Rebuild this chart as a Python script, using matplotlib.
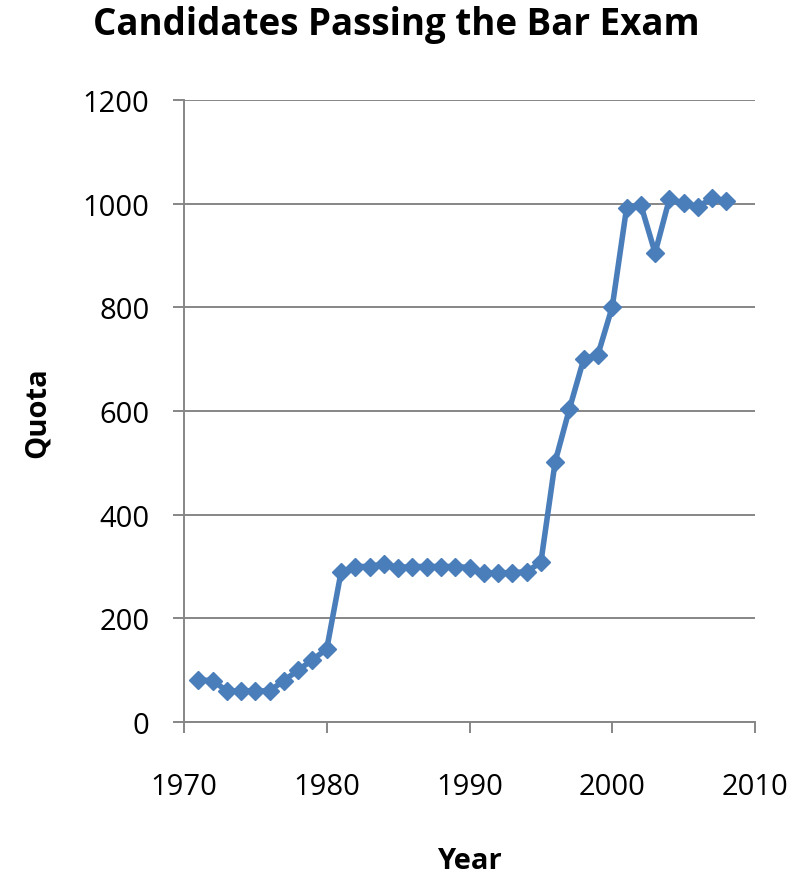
import matplotlib
matplotlib.use("Agg")
import matplotlib.pyplot as plt

years = [1971, 1972, 1973, 1974, 1975, 1976, 1977, 1978, 1979, 1980,
         1981, 1982, 1983, 1984, 1985, 1986, 1987, 1988, 1989, 1990,
         1991, 1992, 1993, 1994, 1995, 1996, 1997, 1998, 1999, 2000,
         2001, 2002, 2003, 2004, 2005, 2006, 2007, 2008]
quota = [81, 80, 60, 60, 60, 60, 80, 100, 120, 141,
         289, 300, 300, 305, 298, 300, 300, 300, 300, 298,
         287, 288, 288, 290, 308, 502, 604, 700, 709, 801,
         991, 998, 905, 1009, 1001, 994, 1011, 1005]
x_ticks = [1970, 1980, 1990, 2000, 2010]
y_ticks = [0, 200, 400, 600, 800, 1000, 1200]

plt.rcParams['font.family'] = ['Open Sans', 'DejaVu Sans']

W, H = 801, 878
fig = plt.figure(figsize=(W / 100, H / 100), dpi=100)
left, right, top, bottom = 184, 755, 101, 723
ax = fig.add_axes([left / W, 1 - bottom / H, (right - left) / W, (bottom - top) / H])

grid_c = '#868686'
ax.plot(years, quota, color='#4A7EBB', lw=4.0, marker='D', ms=9.2,
        mec='#4A7EBB', mfc='#4A7EBB', zorder=3, clip_on=False)

ax.set_xlim(1970, 2010)
ax.set_ylim(0, 1200)
ax.set_xticks(x_ticks)
ax.set_yticks(y_ticks)
ax.yaxis.grid(True, color=grid_c, lw=1.4)
ax.set_axisbelow(True)
for s in ['top', 'right']:
    ax.spines[s].set_visible(False)
for s in ['left', 'bottom']:
    ax.spines[s].set_color(grid_c)
    ax.spines[s].set_linewidth(1.4)
ax.tick_params(axis='both', direction='out', length=8, width=1.4, color=grid_c,
               labelsize=21, labelcolor='black')
ax.tick_params(axis='x', pad=28)
ax.tick_params(axis='y', pad=17)

fig.text(396 / W, 1 - 25 / H, 'Candidates Passing the Bar Exam',
         ha='center', va='center', fontsize=26.5, fontweight='bold')
fig.text(469 / W, 1 - 862 / H, 'Year', ha='center', va='center',
         fontsize=21, fontweight='bold')
fig.text(37 / W, 1 - 413 / H, 'Quota', ha='center', va='center', rotation=90,
         fontsize=21, fontweight='bold')

fig.savefig('out.png', dpi=100)
